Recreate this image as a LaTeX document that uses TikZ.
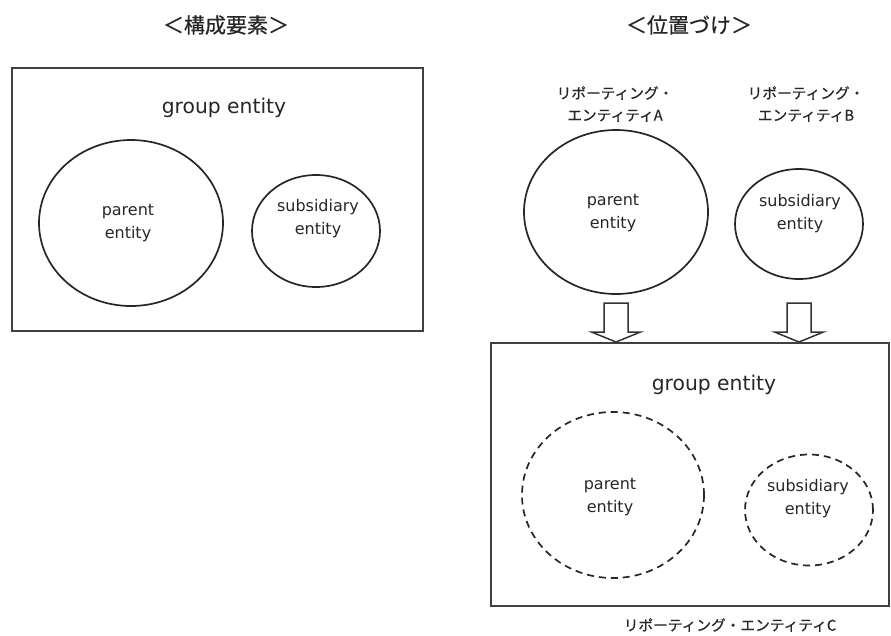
\documentclass[tikz,border=0pt]{standalone}
\usepackage{fontspec}
\newfontfamily\jpfont[FakeBold=0.6]{Noto Sans CJK JP}
\newfontfamily\latfont{DejaVu Sans}
\usetikzlibrary{shapes.geometric}
\begin{document}
\begin{tikzpicture}[x=1pt,y=-1pt,
  groupbox/.style={draw=black!75, line width=2pt, rectangle, inner sep=0pt},
  entcirc/.style={draw=black!85, line width=1.7pt, ellipse, inner sep=0pt},
  dashcirc/.style={entcirc, dash pattern=on 7pt off 5pt},
  heading/.style={font=\jpfont\fontsize{21}{24}\selectfont, text=black!85, inner sep=0pt},
  jplabel/.style={font=\jpfont\fontsize{14.7}{22}\selectfont, text=black!85, align=center, inner sep=0pt},
  grouptext/.style={font=\latfont\fontsize{20.3}{24}\selectfont, text=black!85, inner sep=0pt},
  enttext/.style={font=\latfont\fontsize{16}{23}\selectfont, text=black!85, align=center, inner sep=0pt},
  blockarrow/.style={draw=black!80, line width=1.5pt, fill=white, line join=miter}]
\useasboundingbox (0,0) rectangle (891,635);

% headings
\node[heading] (h1) at (226,25) {＜構成要素＞};
\node[heading] (h2) at (689,25) {＜位置づけ＞};

% left: components
\node[groupbox, minimum width=411pt, minimum height=263pt] (gL) at (217.5,199.5) {};
\node[grouptext] (gLt) at (224,108) {group entity};
\node[entcirc, minimum width=184pt, minimum height=166pt] (pL) at (131,223) {};
\node[enttext] (pLt) at (128,223.5) {parent\\entity};
\node[entcirc, minimum width=128pt, minimum height=112pt] (sL) at (316,231) {};
\node[enttext] (sLt) at (318,218.5) {subsidiary\\entity};

% right: positioning
\node[jplabel] (lA) at (615,104) {リポーティング・\\エンティティA};
\node[jplabel] (lB) at (806,104) {リポーティング・\\エンティティB};
\node[entcirc, minimum width=184pt, minimum height=164pt] (pA) at (616,212) {};
\node[enttext] (pAt) at (613,213.5) {parent\\entity};
\node[entcirc, minimum width=128pt, minimum height=110pt] (sB) at (799,224) {};
\node[enttext] (sBt) at (800,213.5) {subsidiary\\entity};

\node[groupbox, minimum width=398pt, minimum height=263pt] (gR) at (690,474.5) {};
\node[grouptext] (gRt) at (714,385) {group entity};
\node[dashcirc, minimum width=182pt, minimum height=166pt] (pC) at (613,495) {};
\node[enttext] (pCt) at (610,497.5) {parent\\entity};
\node[dashcirc, minimum width=128pt, minimum height=111pt] (sC) at (809,510) {};
\node[enttext] (sCt) at (808,498.5) {subsidiary\\entity};
\node[jplabel] (lC) at (730,625) {リポーティング・エンティティC};

% block arrows
\coordinate (tA) at (gR.north -| pA.center);
\coordinate (tB) at (gR.north -| sB.center);
\draw[blockarrow] (tA) -- ++(-24.5,-10) -- ++(12.5,0) -- ++(0,-29) -- ++(24,0) -- ++(0,29) -- ++(12.5,0) -- cycle;
\draw[blockarrow] (tB) -- ++(-24.5,-10) -- ++(12.5,0) -- ++(0,-29) -- ++(24,0) -- ++(0,29) -- ++(12.5,0) -- cycle;
\end{tikzpicture}
\end{document}
